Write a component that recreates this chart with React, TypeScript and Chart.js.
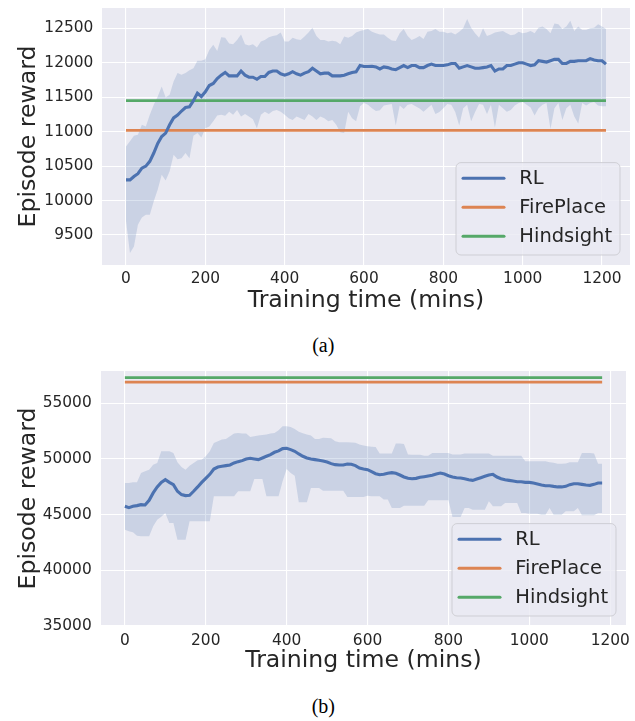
import React, { useEffect, useRef } from 'react';
import { Chart, registerables } from 'chart.js';

Chart.register(...registerables);

// ---------- Chart (a) data ----------
const minutesA = [
  0, 10, 20, 30, 40, 50, 60, 70, 80, 90,
  100, 110, 120, 130, 140, 150, 160, 170, 180, 190,
  200, 210, 220, 230, 240, 250, 260, 270, 280, 290,
  300, 310, 320, 330, 340, 350, 360, 370, 380, 390,
  400, 410, 420, 430, 440, 450, 460, 470, 480, 490,
  500, 510, 520, 530, 540, 550, 560, 570, 580, 590,
  600, 610, 620, 630, 640, 650, 660, 670, 680, 690,
  700, 710, 720, 730, 740, 750, 760, 770, 780, 790,
  800, 810, 820, 830, 840, 850, 860, 870, 880, 890,
  900, 910, 920, 930, 940, 950, 960, 970, 980, 990,
  1000, 1010, 1020, 1030, 1040, 1050, 1060, 1070, 1080, 1090,
  1100, 1110, 1120, 1130, 1140, 1150, 1160, 1170, 1180, 1190,
  1200, 1210,
];
const rlMeanA = [
  10300, 10300, 10350, 10390, 10470, 10500, 10570, 10690, 10830, 10930,
  10980, 11100, 11200, 11240, 11300, 11350, 11360, 11450, 11560, 11510,
  11580, 11670, 11700, 11770, 11820, 11860, 11810, 11810, 11810, 11880,
  11820, 11790, 11790, 11760, 11800, 11800, 11860, 11880, 11880, 11840,
  11820, 11840, 11870, 11840, 11820, 11850, 11870, 11920, 11880, 11840,
  11850, 11850, 11810, 11810, 11810, 11820, 11840, 11860, 11870, 11960,
  11945, 11945, 11950, 11940, 11910, 11940, 11930, 11910, 11900, 11930,
  11960, 11930, 11960, 11960, 11930, 11930, 11960, 11980, 11960, 11960,
  11960, 11970, 11990, 11990, 11920, 11940, 11960, 11940, 11920, 11920,
  11930, 11940, 11960, 11880, 11910, 11910, 11960, 11960, 11980, 12000,
  12000, 11980, 11960, 11970, 12030, 12020, 12010, 12030, 12050, 12050,
  11990, 11990, 12020, 12020, 12030, 12030, 12030, 12060, 12040, 12030,
  12030, 11980,
];
const rlUpperA = [
  10785, 10860, 10940, 10955, 11100, 11075, 11245, 11390, 11510, 11655,
  11495, 11535, 11730, 11850, 11825, 11850, 11890, 11920, 12030, 12030,
  12050, 12185, 12260, 12170, 12370, 12365, 12280, 12270, 12330, 12410,
  12270, 12250, 12270, 12220, 12310, 12330, 12370, 12390, 12400, 12440,
  12310, 12310, 12365, 12340, 12330, 12380, 12440, 12510, 12390, 12330,
  12330, 12310, 12320, 12310, 12270, 12380, 12365, 12390, 12440, 12460,
  12475, 12490, 12450, 12430, 12410, 12410, 12365, 12325, 12315, 12430,
  12490, 12390, 12330, 12355, 12390, 12345, 12450, 12460, 12490, 12450,
  12450, 12430, 12440, 12410, 12450, 12500, 12635, 12510, 12430, 12365,
  12500, 12390, 12410, 12440, 12450, 12460, 12430, 12400, 12410, 12450,
  12430, 12440, 12460, 12430, 12510, 12525, 12490, 12430, 12570, 12560,
  12490, 12525, 12610, 12460, 12525, 12475, 12475, 12500, 12510, 12560,
  12525, 12490,
];
const rlLowerA = [
  9704, 9240, 9335, 9650, 9755, 9795, 9795, 9990, 10160, 10375,
  10290, 10425, 10665, 10600, 10615, 10690, 10615, 10940, 10980, 10915,
  11050, 11075, 11150, 11235, 11245, 11230, 11290, 11245, 11315, 11220,
  11255, 11220, 11180, 11050, 11245, 11290, 11255, 11300, 11315, 11290,
  11245, 11195, 11170, 11220, 11195, 11170, 11255, 11220, 11170, 11220,
  11195, 11150, 11170, 11100, 10990, 10980, 11290, 11195, 11150, 11370,
  11415, 11390, 11340, 11300, 11310, 11380, 11390, 11400, 11090, 11380,
  11330, 11390, 11400, 11370, 11335, 11290, 11340, 11390, 11255, 11285,
  11340, 11400, 11390, 11285, 11090, 11340, 11390, 11150, 11285, 11400,
  11390, 11255, 11390, 11060, 11390, 11340, 11290, 11315, 11380, 11415,
  11430, 11390, 11350, 11235, 11340, 11390, 11415, 11040, 11340, 11415,
  11170, 11340, 11390, 11220, 11120, 11415, 11380, 11415, 11430, 11380,
  11370, 11370,
];
const fireplaceA = 11020;
const hindsightA = 11450;
const xTicksA = [0, 200, 400, 600, 800, 1000, 1200];
const yTicksA = [9500, 10000, 10500, 11000, 11500, 12000, 12500];

// ---------- Chart (b) data ----------
const minutesB = [
  0, 10, 20, 30, 40, 50, 60, 70, 80, 90,
  100, 110, 120, 130, 140, 150, 160, 170, 180, 190,
  200, 210, 220, 230, 240, 250, 260, 270, 280, 290,
  300, 310, 320, 330, 340, 350, 360, 370, 380, 390,
  400, 410, 420, 430, 440, 450, 460, 470, 480, 490,
  500, 510, 520, 530, 540, 550, 560, 570, 580, 590,
  600, 610, 620, 630, 640, 650, 660, 670, 680, 690,
  700, 710, 720, 730, 740, 750, 760, 770, 780, 790,
  800, 810, 820, 830, 840, 850, 860, 870, 880, 890,
  900, 910, 920, 930, 940, 950, 960, 970, 980, 990,
  1000, 1010, 1020, 1030, 1040, 1050, 1060, 1070, 1080, 1090,
  1100, 1110, 1120, 1130, 1140, 1150, 1160, 1170, 1180,
];
const rlMeanB = [
  45749, 45630, 45750, 45810, 45900, 45870, 46290, 46950, 47490, 47900,
  48140, 47900, 47690, 47100, 46800, 46710, 46740, 47100, 47490, 47900,
  48260, 48620, 49100, 49280, 49340, 49400, 49460, 49640, 49760, 49850,
  50000, 50060, 50000, 49940, 50090, 50240, 50390, 50600, 50720, 50930,
  50960, 50840, 50690, 50450, 50240, 50090, 50000, 49940, 49880, 49820,
  49730, 49580, 49490, 49460, 49460, 49550, 49520, 49400, 49190, 49100,
  49040, 48860, 48680, 48590, 48620, 48710, 48770, 48710, 48560, 48380,
  48260, 48230, 48260, 48350, 48410, 48470, 48530, 48650, 48740, 48650,
  48500, 48380, 48320, 48290, 48230, 48140, 48080, 48200, 48320, 48440,
  48560, 48620, 48380, 48230, 48140, 48080, 48020, 47960, 47960, 47900,
  47900, 47840, 47750, 47660, 47600, 47600, 47540, 47490, 47490, 47540,
  47690, 47780, 47780, 47720, 47660, 47630, 47720, 47840, 47840,
];
const rlUpperB = [
  47840, 47840, 47900, 47900, 48740, 48890, 49040, 49490, 49640, 50690,
  50690, 50690, 50540, 49700, 49280, 49040, 49400, 49640, 49880, 49940,
  50240, 50690, 51440, 51590, 51740, 51800, 52040, 52280, 52340, 52280,
  52280, 51980, 52040, 52100, 52160, 52190, 52280, 52340, 52570, 52930,
  52930, 52870, 52690, 52450, 52300, 52200, 52100, 51800, 51800, 51900,
  51880, 51850, 51600, 51500, 51500, 51500, 51480, 51450, 51300, 51200,
  51150, 51100, 51080, 50480, 50480, 50480, 50500, 51380, 51380, 51350,
  50400, 50390, 50390, 50390, 50300, 50300, 50540, 50540, 50540, 50540,
  50540, 50400, 50400, 50400, 50480, 50480, 50480, 50480, 50480, 50480,
  50480, 50300, 50300, 50300, 50300, 50300, 50300, 50300, 50300, 49790,
  49790, 49790, 49790, 49790, 49790, 49700, 49650, 49580, 49580, 49600,
  49700, 49700, 49700, 50540, 50540, 50540, 50500, 49580, 49580,
];
const rlLowerB = [
  43650, 43500, 43410, 43100, 43050, 43050, 43050, 43950, 44550, 44800,
  45150, 44250, 44250, 42750, 42750, 42750, 44400, 44400, 44400, 44400,
  44400, 44400, 46650, 46650, 46650, 46650, 46650, 46650, 47100, 47100,
  47100, 47100, 48200, 48200, 48200, 46650, 46650, 46650, 46650, 48000,
  49100, 48740, 48500, 46110, 46110, 46110, 47400, 47400, 47400, 47150,
  47150, 47150, 47150, 47150, 47150, 46590, 46590, 46590, 46590, 46590,
  46700, 46650, 46650, 46650, 46350, 46350, 45600, 45600, 45600, 45810,
  45810, 45810, 45810, 45810, 45810, 46290, 46290, 46290, 46290, 46290,
  46290, 44790, 44790, 44790, 45600, 45600, 45450, 45450, 45450, 45450,
  46200, 45750, 45750, 45750, 46050, 46050, 46050, 46050, 45150, 45150,
  45090, 45090, 45090, 45000, 45000, 45600, 45000, 45000, 45000, 45300,
  45300, 45300, 45600, 44950, 44950, 44950, 44950, 45150, 45150,
];
const fireplaceB = 56900;
const hindsightB = 57300;
const xTicksB = [0, 200, 400, 600, 800, 1000, 1200];
const yTicksB = [35000, 40000, 45000, 50000, 55000];

const seriesLabels = ['RL', 'FirePlace', 'Hindsight'];

// ---------- styling ----------
const C_RL = '#4c72b0';
const C_FIRE = '#dd8452';
const C_HIND = '#55a868';
const BAND = 'rgba(76,114,176,0.2)';
const TEXT = '#262626';
const FONT = '"DejaVu Sans", sans-serif';

const panelPlugin = {
  id: 'panel',
  beforeDraw(chart: any) {
    const { ctx, chartArea: a } = chart;
    ctx.save();
    ctx.fillStyle = '#eaeaf2';
    ctx.fillRect(a.left, a.top, a.right - a.left, a.bottom - a.top);
    ctx.restore();
  },
  afterDraw(chart: any, _args: any, opts: any) {
    const { ctx, chartArea: a } = chart;
    const w = 164;
    const h = 92.4;
    const x = a.right - opts.gapRight - w;
    const y = a.bottom - opts.gapBottom - h;
    const r = 5;
    ctx.save();
    ctx.beginPath();
    ctx.moveTo(x + r, y);
    ctx.lineTo(x + w - r, y);
    ctx.arcTo(x + w, y, x + w, y + r, r);
    ctx.lineTo(x + w, y + h - r);
    ctx.arcTo(x + w, y + h, x + w - r, y + h, r);
    ctx.lineTo(x + r, y + h);
    ctx.arcTo(x, y + h, x, y + h - r, r);
    ctx.lineTo(x, y + r);
    ctx.arcTo(x, y, x + r, y, r);
    ctx.closePath();
    ctx.fillStyle = 'rgba(234,234,242,0.8)';
    ctx.fill();
    ctx.lineWidth = 1;
    ctx.strokeStyle = 'rgba(204,204,210,0.9)';
    ctx.stroke();
    const items = chart.data.datasets.filter((d: any) => d.label);
    items.forEach((d: any, i: number) => {
      const ly = y + 15.6 + i * 29;
      ctx.beginPath();
      ctx.moveTo(x + 7, ly);
      ctx.lineTo(x + 48, ly);
      ctx.strokeStyle = d.borderColor;
      ctx.lineWidth = 3;
      ctx.lineCap = 'round';
      ctx.stroke();
      ctx.fillStyle = TEXT;
      ctx.font = `19.5px ${FONT}`;
      ctx.textBaseline = 'middle';
      ctx.textAlign = 'left';
      ctx.fillText(d.label, x + 63.3, ly + 0.5);
    });
    ctx.restore();
  },
};

function pts(xs: number[], ys: number[]) {
  return xs.map((x, i) => ({ x, y: ys[i] }));
}

function flat(xs: number[], v: number) {
  return [
    { x: xs[0], y: v },
    { x: xs[xs.length - 1], y: v },
  ];
}

function buildConfig(p: {
  xs: number[];
  mean: number[];
  upper: number[];
  lower: number[];
  fire: number;
  hind: number;
  xTicks: number[];
  yTicks: number[];
  xMin: number;
  xMax: number;
  yMin: number;
  yMax: number;
  pad: { top: number; right: number; left: number; bottom: number };
  yWidth: number;
  xHeight: number;
  yTickPad: number;
  xTickPad: number;
  yTitlePad: number;
  xTitlePad: number;
}): any {
  return {
    type: 'line',
    data: {
      datasets: [
        {
          label: seriesLabels[0],
          data: pts(p.xs, p.mean),
          borderColor: C_RL,
          borderWidth: 3.1,
          pointRadius: 0,
          fill: false,
          tension: 0,
          order: 1,
        },
        {
          label: seriesLabels[1],
          data: flat(p.xs, p.fire),
          borderColor: C_FIRE,
          borderWidth: 2.8,
          pointRadius: 0,
          fill: false,
          order: 2,
        },
        {
          label: seriesLabels[2],
          data: flat(p.xs, p.hind),
          borderColor: C_HIND,
          borderWidth: 2.8,
          pointRadius: 0,
          fill: false,
          order: 3,
        },
        {
          label: '',
          data: pts(p.xs, p.upper),
          borderWidth: 0,
          borderColor: 'rgba(0,0,0,0)',
          backgroundColor: BAND,
          pointRadius: 0,
          fill: '+1',
          order: 10,
        },
        {
          label: '',
          data: pts(p.xs, p.lower),
          borderWidth: 0,
          borderColor: 'rgba(0,0,0,0)',
          pointRadius: 0,
          fill: false,
          order: 11,
        },
      ],
    },
    options: {
      responsive: false,
      animation: false,
      devicePixelRatio: 1,
      events: [],
      layout: { padding: p.pad },
      plugins: {
        legend: { display: false },
        tooltip: { enabled: false },
        panel: { gapRight: 10, gapBottom: 10 },
      },
      scales: {
        x: {
          type: 'linear',
          min: p.xMin,
          max: p.xMax,
          afterBuildTicks: (s: any) => {
            s.ticks = p.xTicks.map((v) => ({ value: v }));
          },
          afterFit: (s: any) => {
            s.height = p.xHeight;
            s.paddingLeft = 0;
            s.paddingRight = 0;
          },
          ticks: {
            callback: (v: any) => String(v),
            font: { family: FONT, size: 15.4 },
            color: TEXT,
            padding: p.xTickPad,
            maxRotation: 0,
          },
          grid: { color: '#ffffff', lineWidth: 1.1, drawTicks: false },
          border: { display: false },
          title: {
            display: true,
            text: 'Training time (mins)',
            font: { family: FONT, size: 23.6 },
            color: TEXT,
            padding: { top: 0, bottom: p.xTitlePad },
          },
        },
        y: {
          type: 'linear',
          min: p.yMin,
          max: p.yMax,
          afterBuildTicks: (s: any) => {
            s.ticks = p.yTicks.map((v) => ({ value: v }));
          },
          afterFit: (s: any) => {
            s.width = p.yWidth;
            s.paddingTop = 0;
            s.paddingBottom = 0;
          },
          ticks: {
            callback: (v: any) => String(v),
            font: { family: FONT, size: 15.4 },
            color: TEXT,
            padding: p.yTickPad,
          },
          grid: { color: '#ffffff', lineWidth: 1.1, drawTicks: false },
          border: { display: false },
          title: {
            display: true,
            text: 'Episode reward',
            font: { family: FONT, size: 23.6 },
            color: TEXT,
            padding: { top: p.yTitlePad, bottom: 0 },
          },
        },
      },
    },
    plugins: [panelPlugin],
  };
}

function ChartCanvas({ top, height, config }: { top: number; height: number; config: any }) {
  const ref = useRef<HTMLCanvasElement>(null);
  useEffect(() => {
    const chart = new Chart(ref.current as HTMLCanvasElement, config);
    return () => chart.destroy();
  }, []);
  return (
    <canvas
      ref={ref}
      width={635}
      height={height}
      style={{ position: 'absolute', left: 0, top, width: 635, height }}
    />
  );
}

const configA = buildConfig({
  xs: minutesA,
  mean: rlMeanA,
  upper: rlUpperA,
  lower: rlLowerA,
  fire: fireplaceA,
  hind: hindsightA,
  xTicks: xTicksA,
  yTicks: yTicksA,
  xMin: -60.5,
  xMax: 1270.5,
  yMin: 9065,
  yMax: 12795,
  pad: { top: 8, right: 5, left: 0, bottom: 0 },
  yWidth: 102,
  xHeight: 60,
  yTickPad: 8.7,
  xTickPad: 5,
  yTitlePad: 14.3,
  xTitlePad: 10,
});

const configB = buildConfig({
  xs: minutesB,
  mean: rlMeanB,
  upper: rlUpperB,
  lower: rlLowerB,
  fire: fireplaceB,
  hind: hindsightB,
  xTicks: xTicksB,
  yTicks: yTicksB,
  xMin: -59,
  xMax: 1239,
  yMin: 35000,
  yMax: 57900,
  pad: { top: 11, right: 9, left: 0, bottom: 0 },
  yWidth: 101,
  xHeight: 59,
  yTickPad: 9.3,
  xTickPad: 5.5,
  yTitlePad: 14.3,
  xTitlePad: 9.8,
});

const captionStyle: React.CSSProperties = {
  position: 'absolute',
  left: 323.3,
  transform: 'translateX(-50%)',
  fontFamily: '"Liberation Serif", "Times New Roman", serif',
  fontSize: 20,
  lineHeight: '20px',
  color: '#000',
  whiteSpace: 'nowrap',
};

export default function App() {
  return (
    <div
      style={{
        position: 'absolute',
        left: 0,
        top: 0,
        width: 635,
        height: 721,
        background: '#ffffff',
        overflow: 'hidden',
      }}
    >
      <ChartCanvas top={0} height={325} config={configA} />
      <div style={{ ...captionStyle, top: 335 }}>(a)</div>
      <ChartCanvas top={360} height={325} config={configB} />
      <div style={{ ...captionStyle, top: 696 }}>(b)</div>
    </div>
  );
}
